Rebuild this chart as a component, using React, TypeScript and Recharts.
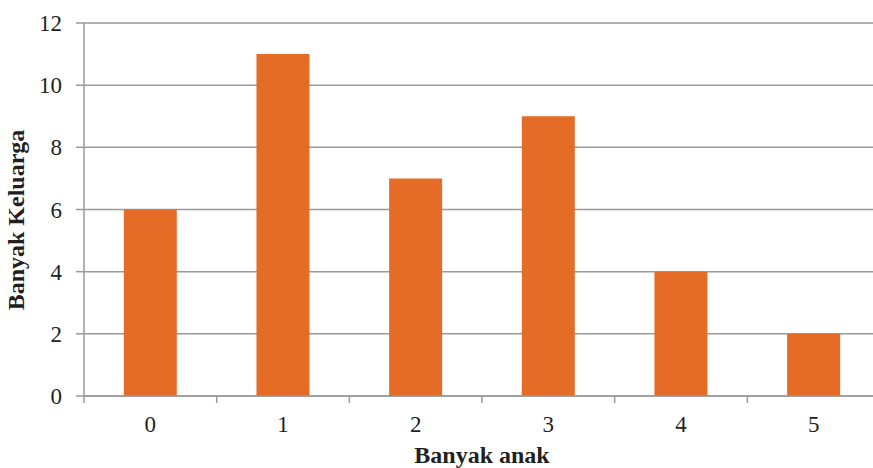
import React from 'react';
import { BarChart, Bar, XAxis, YAxis, CartesianGrid, Label } from 'recharts';

const categories = ['0', '1', '2', '3', '4', '5'];
const families = [6, 11, 7, 9, 4, 2];
const yTicks = [0, 2, 4, 6, 8, 10, 12];

const data = categories.map((anak, i) => ({ anak, keluarga: families[i] }));

const GRID = '#9a9a9a';
const TEXT = '#231f20';
const BAR = '#e46c26';
const FONT = '"Liberation Serif", "Times New Roman", serif';

// tick label at the category centre, tick mark at the left category boundary
const CategoryTick = ({ x, y, payload }: any) => {
  const half = payload?.offset ?? (880 - 84) / 12;
  return (
    <g>
      <line x1={x - half} x2={x - half} y1={y} y2={y + 7} stroke={GRID} strokeWidth={1.5} />
      <text x={x} y={y + 36} textAnchor="middle" fontSize={23} fill={TEXT} fontFamily={FONT}>
        {payload.value}
      </text>
    </g>
  );
};

const YTitle = () => {
  const cx = 24;
  const cy = 220;
  return (
    <text
      x={cx}
      y={cy}
      transform={`rotate(-90, ${cx}, ${cy})`}
      textAnchor="middle"
      fontSize={24}
      fontWeight="bold"
      fill={TEXT}
      fontFamily={FONT}
    >
      Banyak Keluarga
    </text>
  );
};

const XTitle = ({ viewBox }: any) => {
  const cx = viewBox.x + viewBox.width / 2;
  return (
    <text x={cx} y={463} textAnchor="middle" fontSize={24} fontWeight="bold" fill={TEXT} fontFamily={FONT}>
      Banyak anak
    </text>
  );
};

export default function App() {
  return (
    <div style={{ position: 'absolute', left: 0, top: 0, width: 873, height: 468, overflow: 'hidden', background: '#fff' }}>
      <BarChart
        width={880}
        height={468}
        data={data}
        margin={{ top: 23, right: 0, bottom: 0, left: 0 }}
        barCategoryGap="30%"
      >
        <CartesianGrid vertical={false} stroke={GRID} strokeWidth={1.5} />
        <XAxis
          dataKey="anak"
          height={72}
          axisLine={{ stroke: GRID, strokeWidth: 1.5 }}
          tickLine={false}
          tickSize={0}
          tickMargin={0}
          tick={<CategoryTick />}
          interval={0}
        >
          <Label content={<XTitle />} />
        </XAxis>
        <YAxis
          width={84}
          domain={[0, 12]}
          ticks={yTicks}
          interval={0}
          axisLine={{ stroke: GRID, strokeWidth: 1.5 }}
          tickLine={{ stroke: GRID, strokeWidth: 1.5 }}
          tickSize={8}
          tickMargin={14}
          tick={{ fontSize: 23, fill: TEXT, fontFamily: FONT }}
        >
          <Label content={<YTitle />} />
        </YAxis>
        <Bar dataKey="keluarga" fill={BAR} isAnimationActive={false} />
      </BarChart>
    </div>
  );
}
